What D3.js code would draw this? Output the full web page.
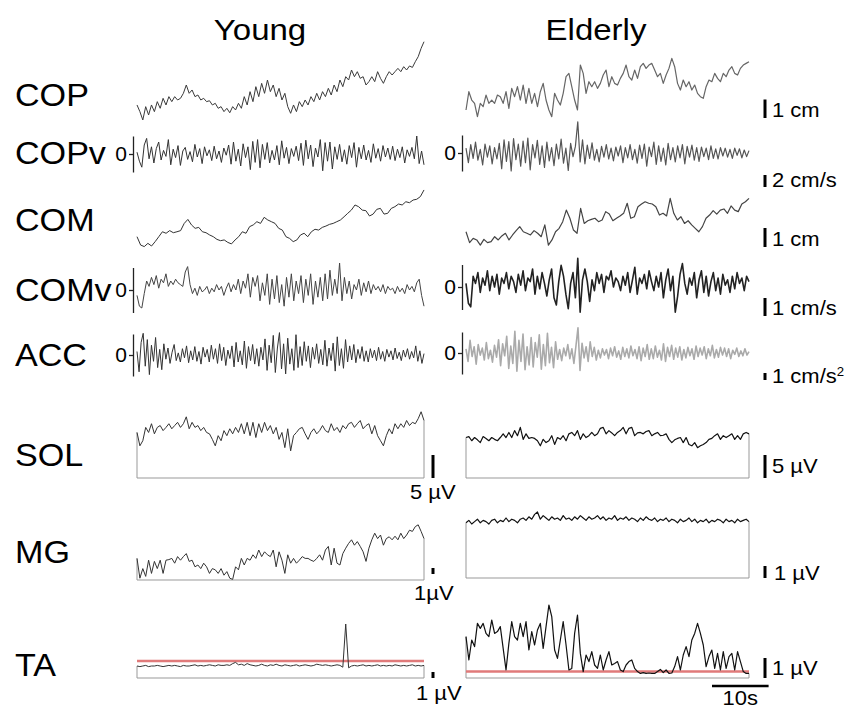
<!DOCTYPE html>
<html>
<head>
<meta charset="utf-8">
<script src="https://cdn.jsdelivr.net/npm/d3@7"></script>
<style>
  body { margin: 0; background: #fff; }
</style>
</head>
<body>
<script>
// recording length of every trace, seconds
var duration = 50;

var groups = ["Young", "Elderly"];
var rowLabels = ["COP", "COPv", "COM", "COMv", "ACC", "SOL", "MG", "TA"];

// centre of pressure, mm
var youngCopMm = [9.2,5.6,1.1,8.3,3.8,9.2,5.6,11,7.4,12.8,9.2,13.7,11,13.7,11.9,12.8,15.5,20,15.5,17.3,13.7,14.6,11.9,12.8,11,11.5,9.2,10.1,7.4,8.3,5.6,7.4,5,8.3,6.5,10.1,7.4,13.7,9.2,16.4,11,19.1,13.7,20.9,15.5,22.7,16.4,20,13.7,18.2,11.9,15.5,8.3,4.7,9.2,5.6,11,8.3,11.9,9.2,13.7,11,15.5,11.9,16.4,13.7,18.2,14.6,20,16.4,22.7,19.1,24.5,22.7,28.1,24.5,27.2,23.6,24.5,20,21.8,24.5,21.8,27.2,23.6,20.9,24.5,27.2,25.4,27.2,29,27.2,29.9,28.1,30.3,29.5,32.6,35.3,39.8,43.4];
var elderlyCopMm = [5.4,15.3,10.8,9,1.8,9,7.2,13.5,9,10.8,9,13.5,12.6,9,15.3,6.3,17.1,12.6,18,10.8,18.9,9,17.1,9,14.4,7.2,15.3,19.8,10.8,5.4,1.8,14.4,10.8,8.1,14.4,23.4,25.2,18,10.8,5.4,29.7,25.2,14.4,20.7,18,20.7,17.1,19.8,24.3,27,18,23.4,19.8,18.9,22.5,25.2,29.7,23.4,21.6,27,22.5,28.8,30.6,27.9,29.7,30.6,27,23.4,25.2,19.8,24.3,27.9,33.3,28.8,19.8,16.2,21.6,18,20.7,16.2,18.9,14.4,12.6,11.7,18,21.6,20.7,25.2,22.5,20.7,25.2,23.4,27,28.8,25.2,24.3,27.9,29.7,30.6,31.5];

// COP velocity, cm/s
var youngCopv = [0.3,-1.2,-2.2,1.5,2.6,-0.8,1.2,-1.5,0.9,2.0,-1.0,0.6,-0.4,2.4,-1.8,0.8,-0.6,1.4,-1.9,0.5,1.1,-0.9,0.4,-1.3,1.6,-0.5,0.9,-1.6,1.2,-0.3,0.7,-1.1,1.3,-0.8,0.5,-1.4,1.0,-0.2,1.5,-1.7,2.0,-1.2,0.8,-2.0,1.7,-0.6,1.2,-2.6,2.1,-1.4,2.4,-2.3,1.6,-0.9,1.9,-1.5,0.6,-1.0,1.4,-1.8,2.2,-0.7,1.1,-1.6,0.9,-0.4,1.3,-1.1,1.8,-1.9,2.3,-0.8,1.5,-2.1,1.0,-0.5,2.4,-2.8,1.9,-1.2,2.0,-2.5,1.2,-0.9,1.6,-1.3,0.7,-1.7,1.4,-0.6,1.9,-2.2,1.1,-0.8,1.5,-1.0,0.6,-1.4,1.7,-0.7,0.9,-1.2,1.4,-0.5,1.0,-0.9,1.3,-1.1,0.8,-0.6,1.2,-1.5,0.7,-0.4,1.1,-0.8,3.0,-1.6,0.5,-1.8];
var elderlyCopv = [0.8,-1.6,1.4,-0.9,1.8,-1.2,0.6,-2.0,1.5,-0.7,1.2,-1.8,0.9,-1.0,1.6,-2.6,2.2,-1.4,1.9,-3.0,2.4,-1.1,1.5,-2.2,2.0,-1.6,2.5,-2.8,1.4,-0.8,2.1,-1.9,1.2,-2.4,1.8,-1.3,0.9,-2.1,1.5,-1.0,2.3,-1.7,0.8,-2.9,1.6,-0.6,1.1,5.2,-1.5,2.2,-1.8,1.3,-0.9,1.7,-1.2,0.6,-1.5,1.1,-0.7,1.4,-1.0,0.8,-1.3,1.0,-0.5,1.2,-1.6,0.9,-0.8,1.4,-1.1,0.6,-1.7,1.3,-0.9,1.5,-2.2,1.0,-0.6,1.8,-1.9,1.2,-1.4,0.8,-2.0,1.6,-1.1,0.9,-1.5,1.2,-0.8,1.4,-1.8,1.1,-0.7,1.3,-1.2,0.9,-1.4,1.0,-0.6,0.8,-1.1,1.2,-0.9,0.7,-1.0,0.9,-0.5,0.8,-0.7,0.6,-0.9,0.8,-0.4,0.7,-0.8,0.5,-0.6,0.4];

// centre of mass, mm
var youngComMm = [7,2.6,1.8,3.5,2.1,4.4,7,9.6,8.8,10.2,9.1,9.6,10.2,14,16.1,13.2,11.4,11.9,9.6,9.1,7.9,7,5.6,4.9,5.3,4,3.2,5.3,7,9.6,8.8,12.3,13.2,14.9,14,17.2,15.8,14.9,14,11.4,10.5,7,6.1,4.4,5.3,7.9,8.8,7,9.6,10.9,10.5,11.9,12.6,13.5,14,14.9,15.8,17.5,19.3,21,23.7,22.8,21,20.7,17.9,18.9,21.4,21.9,18.9,19.3,21.9,22.8,24.2,23.7,25.4,24.9,26.3,26.7,28.1,31.6];
var elderlyComMm = [9.6,3.9,6.1,5.3,2.6,5.6,3.9,4.4,7,5.3,7.4,8.8,5.3,7.9,10.2,12.3,9.6,8.8,7.9,10.2,8.8,7,13.2,2.6,5.3,9.6,11.4,14.9,21,16.7,10.5,8.8,21.9,14,15.4,16.1,16.7,14.9,15.8,20.2,18.9,15.4,16.7,17.9,19.3,24.6,16.7,17.5,22.8,24.2,25.4,24.6,24.2,22.8,18.4,19.3,17.9,27.2,19.3,15.8,17.5,14,15.4,13.2,11.4,9.6,12.3,16.7,18.4,20.7,18.9,21,21.6,19.3,23.2,21,20.2,24.2,25.4,27.2];

// COM velocity, cm/s
var youngComv = [-0.3,-0.9,-1.0,-0.2,0.5,0.2,0.7,0.3,0.8,0.1,0.6,0.4,0.9,0.2,0.5,0.3,0.6,0.4,0.3,0.2,1.0,1.3,0.3,-0.2,0.1,-0.3,0.2,-0.1,0.0,0.2,-0.2,0.1,-0.1,0.3,0.0,0.2,-0.3,0.1,0.4,-0.1,0.3,0.0,0.6,-0.2,0.5,0.1,0.9,-0.4,0.7,0.2,0.8,-0.6,0.4,-0.3,0.9,-0.8,0.6,-0.5,0.8,-0.7,0.3,-0.9,0.7,-0.4,0.9,-0.6,0.5,-0.2,0.8,-0.7,0.6,-0.3,0.9,-0.8,0.5,-0.4,0.7,-0.6,0.9,-0.5,1.1,-0.3,0.6,-0.2,1.5,-0.6,0.7,-0.2,0.5,-0.5,0.3,0.0,0.6,-0.3,0.4,-0.1,0.5,-0.2,0.3,0.0,0.2,-0.1,0.3,-0.2,0.2,0.0,0.1,-0.2,0.2,-0.1,0.1,-0.2,0.3,0.0,0.2,-0.1,0.4,0.6,-0.3,-0.9];
var elderlyComv = [0.2,-0.9,-1.1,0.6,0.2,0.8,-0.3,0.5,0.1,0.9,-0.2,0.6,0.0,0.7,-0.4,0.5,0.2,0.8,-0.1,0.6,0.3,-0.3,0.7,0.1,0.9,-0.2,0.5,0.3,1.0,-0.4,0.6,-0.1,0.8,0.2,-0.5,0.4,1.0,-0.6,-1.0,0.3,1.2,0.6,-0.4,-1.2,0.2,0.8,-0.6,1.6,-1.4,0.4,1.0,0.3,-0.8,0.4,-0.2,0.8,0.2,0.7,-0.3,0.6,0.4,0.9,0.0,0.5,0.3,-0.2,0.6,0.1,0.8,-0.3,0.4,1.1,-0.4,0.5,0.2,0.7,-0.1,0.9,0.3,-0.2,0.6,0.0,0.8,-0.6,0.4,1.0,-0.2,0.6,-1.4,-0.5,0.7,1.3,0.2,-0.4,0.5,0.1,0.8,-0.6,0.4,0.9,-0.3,0.6,-0.5,0.3,0.8,-0.2,0.5,-0.4,0.7,0.1,0.4,-0.3,0.6,-0.1,0.8,0.2,0.5,-0.2,0.6,0.3];

// acceleration, cm/s2
var youngAcc = [0.5,-2.4,1.8,3.1,-1.6,2.2,-2.8,1.4,-0.9,2.5,-1.8,0.8,-2.1,1.6,-0.6,1.0,-1.2,0.4,1.5,-0.8,0.3,-1.0,0.9,-0.4,1.3,-1.1,0.6,-0.7,1.2,-0.9,0.5,-1.3,1.1,-0.3,0.8,-1.0,1.4,-0.6,0.9,-1.2,1.6,-0.8,1.1,-1.5,0.7,-0.5,1.3,-1.7,1.8,-1.0,0.6,-1.4,2.0,-1.9,1.2,-0.8,1.5,-1.3,0.9,-1.6,1.1,-0.7,2.3,-2.2,1.4,-1.1,2.8,-2.5,1.0,3.2,-2.0,1.6,-2.7,2.4,-1.3,0.9,-2.2,2.9,-1.8,1.2,-1.5,1.9,-0.9,1.3,-1.8,1.1,-0.6,1.6,-1.2,0.8,-1.4,2.1,-1.6,1.0,-0.8,1.7,-2.3,2.6,-1.5,0.9,-1.9,2.2,-1.0,1.3,-0.7,1.5,-1.1,0.8,-0.5,1.2,-0.9,0.6,-1.0,0.9,-0.4,0.7,-0.8,1.1,-0.6,0.5,-0.9,0.8,-0.3,0.6,-0.7,1.0,-0.5,0.4,-0.8,0.7,-0.3,0.9,-0.6,0.5,-0.4,1.3,-0.9,0.6,-1.2,0.2];
var elderlyAcc = [0.6,-1.2,1.8,-0.5,0.9,-1.6,1.2,-0.3,0.7,-1.0,1.5,-0.8,0.4,-1.3,1.1,-0.6,1.9,-1.8,1.3,-0.4,2.4,-2.2,1.0,-1.5,3.1,-2.6,1.8,-1.2,2.7,-2.4,0.9,-1.7,2.2,-2.0,1.5,-0.6,2.6,-2.3,1.2,-1.8,2.8,-1.4,0.8,-2.1,1.6,-0.9,0.5,-1.1,0.7,-0.4,1.2,-0.8,0.6,-1.5,1.0,3.6,-2.5,1.4,-0.7,0.9,-1.2,1.6,-0.5,0.8,-1.0,0.4,-0.7,0.6,-0.3,0.5,-0.8,0.7,-0.4,0.9,-0.6,0.3,-0.9,0.8,-0.5,0.6,-0.7,1.0,-0.4,0.5,-0.8,0.9,-1.1,0.7,-0.5,1.2,-0.9,0.6,-0.8,1.0,-0.6,0.4,-1.0,1.3,-1.2,0.8,-0.5,1.1,-0.9,0.7,-0.6,0.9,-1.0,0.5,-0.7,0.8,-0.4,0.6,-0.9,1.0,-0.5,0.7,-0.3,0.9,-0.8,0.6,-0.4,1.1,-0.7,0.5,-0.6,0.8,-0.3,0.7,-0.5,0.6,-0.8,0.4,-0.2,0.7,-0.5,0.3,-0.4,0.6,-0.3,0.2];

// EMG envelopes, microvolts
var youngSolUv = [9.9,7,8.1,11,9.9,11.8,9.6,11,11.4,10.3,11,11.8,10.7,11.4,12.1,11,11.8,13.3,10.7,12.1,11,11.4,10.3,11,9.9,9.6,8.4,7,9.2,8.1,10.3,9.2,10.7,9.6,11,9.9,11.8,9.6,12.1,9.2,12.1,8.8,11.8,9.9,12.1,10.3,11.4,9.6,11,8.4,9.9,6.6,10.7,5.9,9.2,9.9,10.7,11,9.6,8.4,9.9,10.7,9.6,10.3,11.4,10.3,9.9,11.8,10.3,11,9.9,11.4,10.7,11.8,12.1,11,11.8,12.5,10.7,11.4,11.8,9.6,11.4,9.2,8.1,7,9.2,10.7,9.6,11.8,10.7,11.8,11,12.5,11.4,12.1,11.8,12.9,14.4,12.5];
var elderlySolUv = [8.8,9,8.1,8.8,8.3,7.7,9,8.6,8.1,8.8,8.4,8.1,8.8,9.6,8.8,9.9,8.8,10.3,9.2,11,8.4,9.6,8.6,8.8,8.6,8.1,7,8.4,7.7,8.1,9.2,7.3,8.8,8.4,9.2,8.1,9.6,9.9,9.2,10.3,8.4,9.6,8.8,9.2,9.9,9.2,9.6,10.8,11,9.6,10.3,9.8,9.2,9.9,10.3,11,9.6,10.8,11,9.2,9.8,9.9,9.6,10.1,10.3,9.2,9.6,9.9,9.2,9.3,9.6,8.4,7.7,8.3,8.6,8.8,7.7,8.8,7.3,7,7.7,6.6,7,7.3,7.7,8.4,8.6,9.2,9.6,8.4,9.2,8.8,9.2,9.6,8.4,9.2,8.4,9.6,9.9,9.6];
var youngMgUv = [3.6,0.3,1.9,0.6,3.3,1.1,3.1,1.9,3.3,1.1,3.3,3.4,3.6,2.8,3.9,3.3,3.9,4.4,3.1,3.3,2.2,2.5,1.9,2.8,2.2,1.1,1.9,1.7,1.1,1.9,0.8,1.4,0.3,0.1,2.2,1.7,3.6,2.5,3.6,3.3,4.2,3.6,5,3.9,4.7,4.2,3.9,5,2.2,4.7,3.3,1.1,4.2,2.8,3.6,2.8,3.3,3.9,3.6,3.6,3.3,3.1,3.6,4.2,3.3,5,5.6,2.5,5.3,2.8,2.5,4.4,5.3,6.1,6.7,5.8,6.4,5.6,4.7,3.1,5.3,6.7,7.8,6.9,7.5,5.8,6.9,7.2,6.7,7.3,6.7,7.8,6.9,7.5,8.3,8.1,8.9,9.2,8.1,6.9];
var elderlyMgUv = [4.6,4.8,4.5,4.7,4.9,4.6,4.8,4.7,4.5,4.8,4.9,4.6,4.8,4.7,5.0,4.7,4.9,4.8,4.6,4.9,5.0,4.8,5.1,4.9,5.3,5.5,4.9,5.2,5.0,4.8,5.1,4.9,5.0,4.8,5.2,4.9,5.0,4.8,5.1,4.9,5.2,5.0,4.8,5.1,4.9,5.0,5.2,4.9,5.1,4.8,5.0,4.9,5.2,4.8,5.0,4.9,5.1,4.8,5.0,4.9,4.7,5.0,4.8,5.1,4.9,4.8,5.0,4.7,4.9,4.8,5.0,4.7,4.9,4.8,4.6,4.9,4.7,4.8,5.0,4.7,4.9,4.6,4.8,4.7,4.9,4.6,4.8,4.7,4.9,4.8,4.6,4.9,4.7,4.8,4.6,4.9,4.7,4.8,4.9,4.7];
var youngTaUv = [2.0,1.9,2.0,2.1,1.9,2.0,2.0,2.1,2.0,1.9,2.0,2.1,2.0,2.1,2.0,1.9,2.1,2.0,2.0,2.1,2.2,2.0,2.1,2.0,2.1,2.2,2.1,2.0,2.2,2.1,2.1,2.2,2.1,2.4,2.6,2.2,2.3,2.1,2.4,2.2,2.1,2.0,2.1,2.3,2.1,2.0,2.2,2.1,2.3,2.1,2.0,2.2,2.1,2.0,2.1,2.2,2.0,2.1,2.2,2.1,2.0,2.1,2.3,2.2,2.1,2.2,2.1,2.0,2.1,2.2,2.1,1.8,9.0,1.7,2.0,2.1,2.0,2.1,2.2,2.0,2.1,2.0,2.1,2.2,2.0,2.1,2.0,2.1,2.0,2.2,2.1,2.0,2.1,2.0,2.1,2.2,2.0,2.1,2.0,2.1];
var elderlyTaUv = [2.07,0.9,1.9,1.57,2.73,2.48,2.73,2.23,2.07,2.9,2.23,2.32,2.57,1.48,0.4,1.73,2.82,2.07,1.9,2.73,2.07,2.82,1.4,2.32,1.65,2.4,2.73,1.48,2.57,3.65,3.07,1.4,0.98,1.9,2.82,1.65,0.4,0.48,2.23,3.15,1.23,0.32,1.15,0.82,1.32,0.65,0.48,1.15,0.4,0.9,1.32,0.65,0.73,0.82,0.4,0.32,0.65,0.82,0.9,0.48,0.32,0.23,0.27,0.23,0.25,0.23,0.23,0.32,0.43,0.27,0.4,0.23,0.25,0.57,1.07,0.4,1.15,1.57,1.07,1.9,2.23,2.73,2.23,1.65,0.57,1.07,1.4,0.48,1.23,0.4,1.32,0.48,1.07,1.23,0.4,1.32,0.82,0.32,0.23,0.23];
// TA activation thresholds, microvolts
var taThresholdUv = [2.85, 0.33];

var FONT = "'Liberation Sans', Arial, Helvetica, sans-serif";
var W = 847, H = 708;

var svg = d3.select("body").append("svg")
  .attr("width", W)
  .attr("height", H)
  .attr("font-family", FONT);
svg.append("rect").attr("width", W).attr("height", H).attr("fill", "#fff");

var xs = [
  d3.scaleLinear().domain([0, duration]).range([137, 424]),
  d3.scaleLinear().domain([0, duration]).range([466, 749])
];

// y scale: value 0 at y0, k pixels per unit
function yScale(y0, k) {
  return d3.scaleLinear().domain([0, 1]).range([y0, y0 - k]);
}

// text looks slightly stretched in the original figure
function txt(x, y, s, size, anchor) {
  return svg.append("text")
    .attr("transform", "translate(" + x + "," + y + ") scale(1.1,1)")
    .attr("font-size", size)
    .attr("text-anchor", anchor || "start")
    .attr("fill", "#000")
    .text(s);
}

function trace(data, x, y, color, width) {
  var n = data.length;
  var line = d3.line()
    .x(function(d, i) { return x(i * duration / (n - 1)); })
    .y(function(d) { return y(d); });
  svg.append("path")
    .datum(data)
    .attr("d", line)
    .attr("fill", "none")
    .attr("stroke", color)
    .attr("stroke-width", width)
    .attr("stroke-linejoin", "round");
}

// outline under an EMG envelope
function box(data, x, y) {
  var n = data.length;
  svg.append("path")
    .attr("d", "M" + x(0) + "," + y(data[0]) + "V" + y(0) + "H" + x(duration) + "V" + y(data[n - 1]))
    .attr("fill", "none")
    .attr("stroke", "#999")
    .attr("stroke-width", 1);
}

function zeroAxis(y, xPos, extent) {
  var g = svg.append("g")
    .attr("transform", "translate(" + xPos + ",0)")
    .call(d3.axisLeft(y.copy().domain(extent).range([y(extent[0]), y(extent[1])]))
      .tickValues([0]).tickSize(4).tickSizeOuter(0).tickPadding(2)
      .tickFormat(d3.format("d")));
  g.attr("font-family", FONT).attr("font-size", 21);
  g.selectAll("path, line").attr("stroke", "#222").attr("stroke-width", 1.3);
  g.selectAll("text").attr("fill", "#000");
}

function bar(x, bottom, y, value) {
  var len = y(0) - y(value);
  svg.append("line")
    .attr("x1", x).attr("x2", x)
    .attr("y1", bottom).attr("y2", bottom - len)
    .attr("stroke", "#000")
    .attr("stroke-width", 3);
}

// titles
txt(260, 40, groups[0], 30, "middle");
txt(596, 40, groups[1], 30, "middle");

// row labels
var labelBase = [106, 164, 231, 301, 366, 466, 563, 676];
rowLabels.forEach(function(r, i) { txt(15, labelBase[i], r, 31); });

// COP
var yCopY = yScale(122, 1.85), yCopE = yScale(120, 1.85);
trace(youngCopMm, xs[0], yCopY, "#3a3a3a", 1);
trace(elderlyCopMm, xs[1], yCopE, "#666", 1.2);
bar(765, 118, yCopE, 10);
txt(772, 117, "1 cm", 20);

// COPv
var yCopvY = yScale(154, 6), yCopvE = yScale(153, 6);
zeroAxis(yCopvY, 133, [-3, 3]);
zeroAxis(yCopvE, 462, [-3, 3]);
trace(youngCopv, xs[0], yCopvY, "#333", 1);
trace(elderlyCopv, xs[1], yCopvE, "#555", 1.2);
bar(765, 187, yCopvE, 2);
txt(772, 187, "2 cm/s", 20);

// COM
var yComY = yScale(250, 1.9), yComE = yScale(250, 1.9);
trace(youngComMm, xs[0], yComY, "#333", 1);
trace(elderlyComMm, xs[1], yComE, "#444", 1.2);
bar(765, 247, yComE, 10);
txt(772, 246, "1 cm", 20);

// COMv
var yComvY = yScale(290, 18), yComvE = yScale(287, 18);
zeroAxis(yComvY, 133, [-1.25, 1.25]);
zeroAxis(yComvE, 462, [-1.25, 1.25]);
trace(youngComv, xs[0], yComvY, "#444", 1);
trace(elderlyComv, xs[1], yComvE, "#222", 1.6);
bar(765, 316, yComvE, 1);
txt(772, 315, "1 cm/s", 20);

// ACC
var yAccY = yScale(355, 7), yAccE = yScale(353, 7);
zeroAxis(yAccY, 133, [-3, 3]);
zeroAxis(yAccE, 462, [-3, 3]);
trace(youngAcc, xs[0], yAccY, "#333", 1);
trace(elderlyAcc, xs[1], yAccE, "#aaa", 1.6);
bar(765, 380, yAccE, 1);
var accT = txt(772, 383, "1 cm/s", 20);
accT.append("tspan").attr("dy", -7).attr("font-size", 12).text("2");

// SOL
var ySolY = yScale(478, 4.6), ySolE = yScale(478, 4.6);
box(youngSolUv, xs[0], ySolY);
box(elderlySolUv, xs[1], ySolE);
trace(youngSolUv, xs[0], ySolY, "#333", 1);
trace(elderlySolUv, xs[1], ySolE, "#111", 1.2);
bar(433, 478, ySolY, 5);
txt(410, 499, "5 \u00b5V", 20);
bar(765, 478, ySolE, 5);
txt(772, 473, "5 \u00b5V", 20);

// MG
var yMgY = yScale(580, 6), yMgE = yScale(578, 12);
box(youngMgUv, xs[0], yMgY);
box(elderlyMgUv, xs[1], yMgE);
trace(youngMgUv, xs[0], yMgY, "#333", 1);
trace(elderlyMgUv, xs[1], yMgE, "#111", 1.2);
bar(433, 574, yMgY, 1);
txt(414, 600, "1\u00b5V", 20);
bar(765, 578, yMgE, 1);
txt(774, 580, "1 \u00b5V", 20);

// TA
var yTaY = yScale(678, 6), yTaE = yScale(678, 20);
box(youngTaUv, xs[0], yTaY);
box(elderlyTaUv, xs[1], yTaE);
[yTaY, yTaE].forEach(function(y, i) {
  svg.append("line")
    .attr("x1", xs[i](0)).attr("x2", xs[i](duration))
    .attr("y1", y(taThresholdUv[i])).attr("y2", y(taThresholdUv[i]))
    .attr("stroke", "#e07a7a")
    .attr("stroke-width", 2.5);
});
trace(youngTaUv, xs[0], yTaY, "#333", 1);
trace(elderlyTaUv, xs[1], yTaE, "#111", 1.2);
bar(433, 678, yTaY, 1);
txt(416, 700, "1 \u00b5V", 20);
bar(765, 678, yTaE, 1);
txt(772, 675, "1 \u00b5V", 20);

// time scale bar
var tenS = xs[1](10) - xs[1](0);
svg.append("line")
  .attr("x1", 712).attr("x2", 712 + tenS)
  .attr("y1", 686).attr("y2", 686)
  .attr("stroke", "#000").attr("stroke-width", 2.5);
txt(712 + tenS / 2, 705, "10s", 20, "middle");
</script>
</body>
</html>
